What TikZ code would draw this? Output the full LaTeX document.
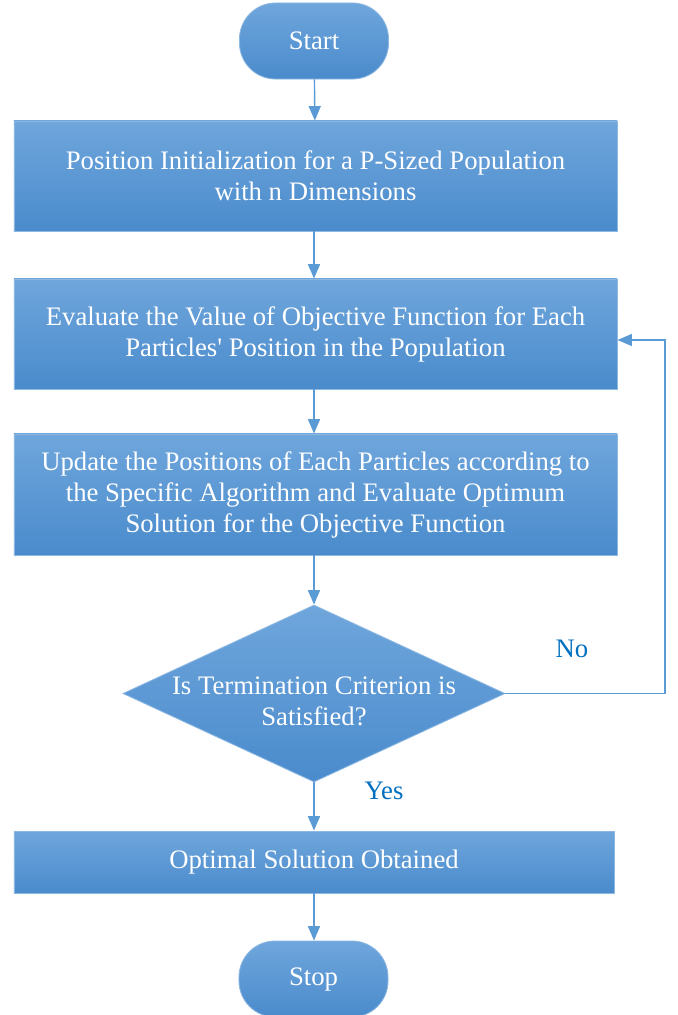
\documentclass[tikz,border=0pt]{standalone}
\usepackage{fontspec}
\setmainfont{Liberation Serif}
\usepackage{tikz}
\usetikzlibrary{arrows.meta,shapes.geometric,calc}

\definecolor{boxtop}{HTML}{6FA6DC}
\definecolor{boxbot}{HTML}{4A8BCC}
\definecolor{boxline}{HTML}{8DB8E2}
\definecolor{arrline}{HTML}{5B9BD5}
\definecolor{lbl}{HTML}{0070C0}

\begin{document}
\begin{tikzpicture}[x=0.025cm,y=-0.025cm,
    txt/.style={text=white,font=\fontsize{19}{22}\selectfont,align=center},
    fillbox/.style={top color=boxtop,bottom color=boxbot,draw=boxline,line width=0.6pt},
    termbox/.style={fillbox,txt,rectangle,rounded corners=0.9cm,minimum width=3.725cm,minimum height=1.9cm},
    procbox/.style={fillbox,txt,rectangle,minimum width=15.075cm,inner sep=0pt},
    decision/.style={fillbox,diamond,minimum width=9.55cm,minimum height=4.425cm,inner sep=0pt},
    arr/.style={draw=arrline,line width=1pt,-{Triangle[width=0.3cm,length=0.36cm]}},
    answer/.style={text=lbl,font=\fontsize{19}{22}\selectfont}]
  \useasboundingbox (0,0) rectangle (678,1015);

  \node[termbox] (start) at (314,41) {Start};
  \node[procbox,minimum height=2.75cm] (init) at (315.5,176)
    {Position Initialization for a P-Sized Population\\with n Dimensions};
  \node[procbox,minimum height=2.75cm] (eval) at (315.5,334)
    {Evaluate the Value of Objective Function for Each\\Particles\textquotesingle{} Position in the Population};
  \node[procbox,minimum height=3.025cm] (update) at (315.5,494.5)
    {Update the Positions of Each Particles according to\\the Specific Algorithm and Evaluate Optimum\\Solution for the Objective Function};
  \node[decision,label={[txt,yshift=-0.2cm]center:Is Termination Criterion is\\Satisfied?}] (test) at (314,693.5) {};
  \node[procbox,minimum width=15cm,minimum height=1.55cm] (optimal) at (314,862) {Optimal Solution Obtained};
  \node[termbox] (stop) at (313.5,979) {Stop};

  \node[answer] (no) at (572,649) {No};
  \node[answer] (yes) at (384,791) {Yes};

  \coordinate (back) at (665,340);

  \draw[arr] (start) -- (init);
  \draw[arr] (init.south-|start) -- (eval.north-|start);
  \draw[arr] (eval.south-|start) -- (update.north-|start);
  \draw[arr] (update.south-|start) -- (test.north);
  \draw[arr] (test.south) -- (optimal.north-|test.south);
  \draw[arr] (optimal.south-|start) -- (stop.north-|start);
  \draw[arr] (test.east) -| (back) -- (eval.east|-back);
\end{tikzpicture}
\end{document}
